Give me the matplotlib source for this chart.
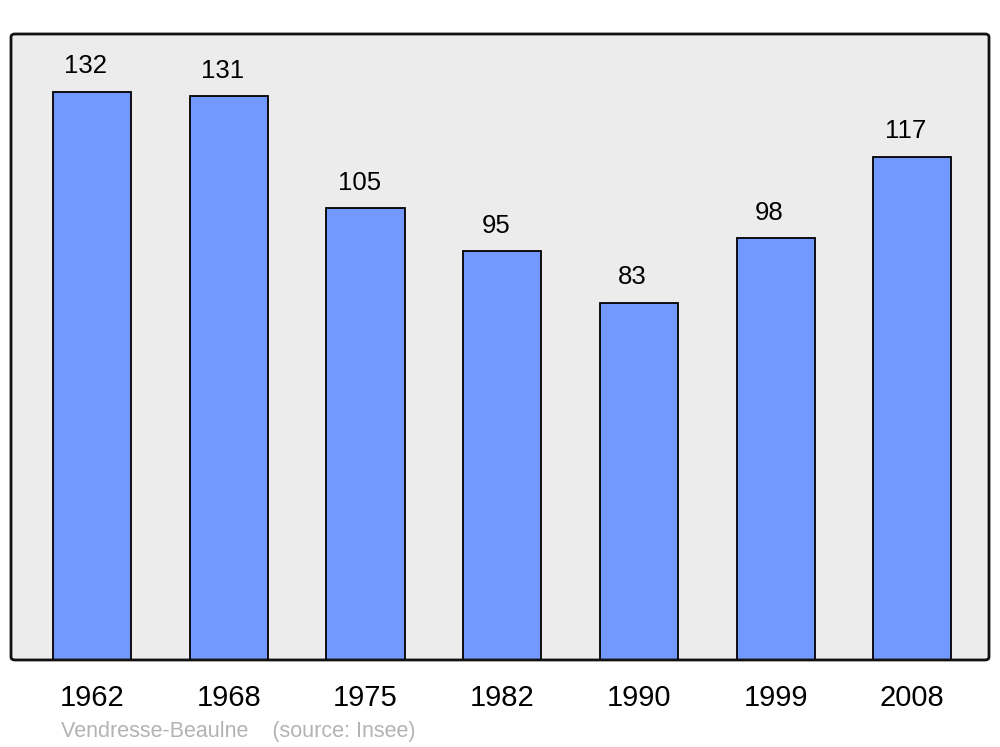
import matplotlib
matplotlib.use("Agg")
import matplotlib.pyplot as plt
from matplotlib.patches import FancyBboxPatch

plt.rcParams['font.family'] = ['Liberation Sans', 'DejaVu Sans']

years = ['1962', '1968', '1975', '1982', '1990', '1999', '2008']
population = [132, 131, 105, 95, 83, 98, 117]

fig = plt.figure(figsize=(10, 7.47), dpi=100)
ax = fig.add_axes([0.011, 0.1165, 0.978, 0.838])
ax.set_facecolor('#ececec')

x = range(len(years))
ax.bar(x, population, width=0.572, color='#7399ff', edgecolor='black', linewidth=1.3, zorder=2)

for i, v in enumerate(population):
    ax.annotate(str(v), (i, v), xytext=(-4.5, 18.5), textcoords='offset points',
                ha='center', va='center', fontsize=18.5)

ax.set_xlim(-0.593, 6.561)
ax.set_ylim(0, 145.5)
ax.set_xticks(list(x))
ax.set_xticklabels(years, fontsize=21)
ax.tick_params(axis='x', length=0, pad=17)
ax.set_yticks([])
for s in ax.spines.values():
    s.set_visible(False)

# rounded frame around the plot area
frame = FancyBboxPatch((0.011, 0.1165), 0.978, 0.838, boxstyle='round,pad=0,rounding_size=0.004',
                       transform=fig.transFigure, fill=False, edgecolor='#111111', linewidth=2, zorder=5)
fig.patches.append(frame)

fig.text(0.061, 0.0201, 'Vendresse-Beaulne    (source: Insee)', fontsize=15.5, color='#b3b3b3', va='center')

fig.savefig('out.png', dpi=100)
